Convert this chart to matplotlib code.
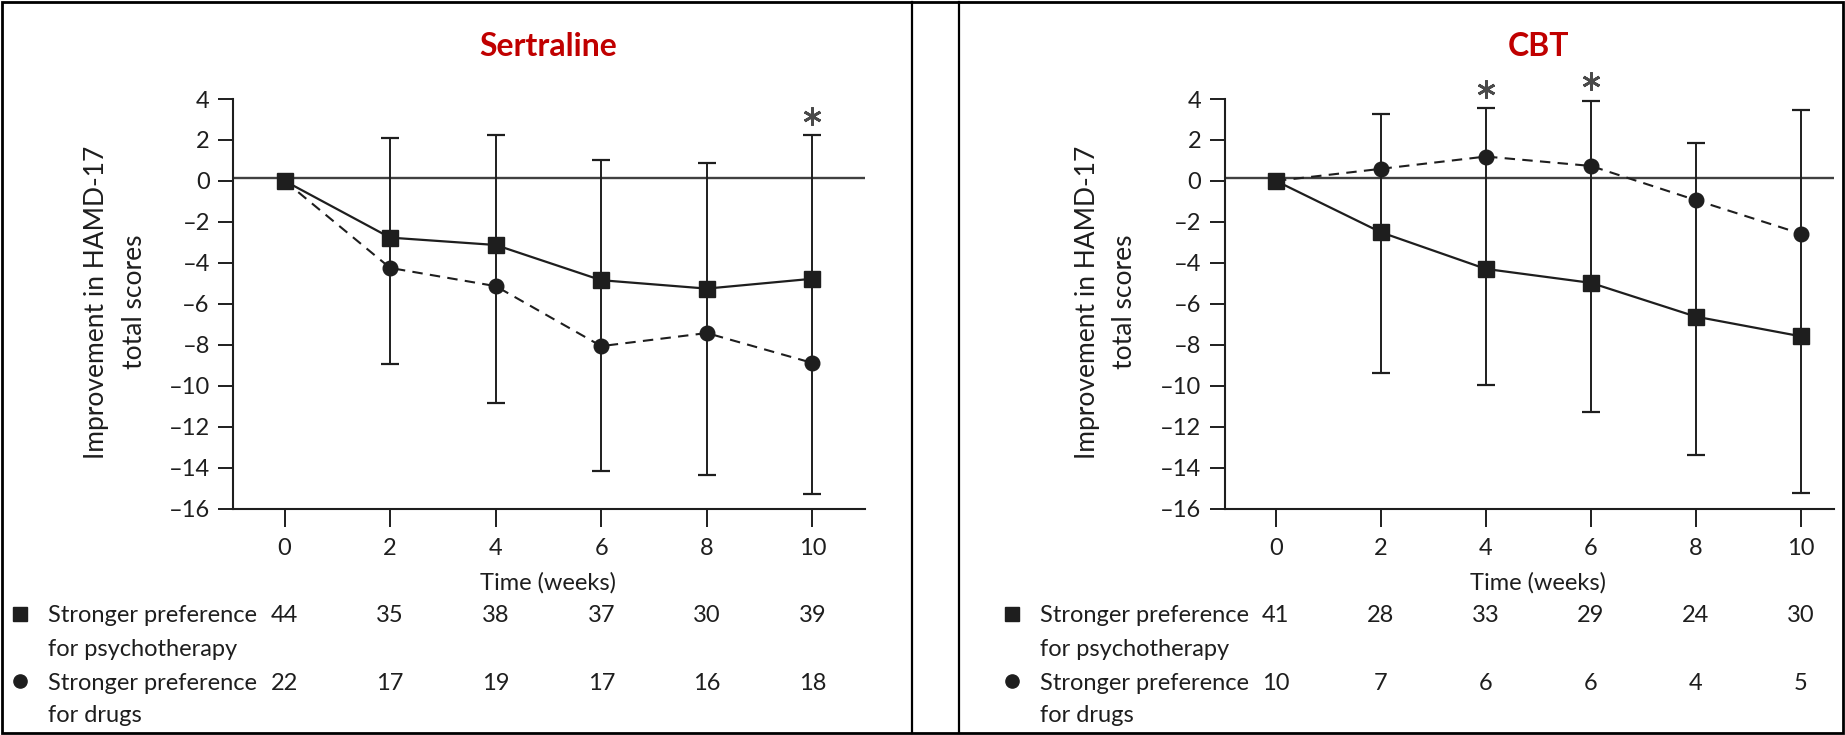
"""HAMD-17 improvement by treatment preference, Sertraline vs CBT."""

import matplotlib
matplotlib.use("Agg")
import matplotlib.pyplot as plt
from matplotlib.lines import Line2D
from matplotlib.patches import Rectangle
from matplotlib.transforms import blended_transform_factory

plt.rcParams["font.family"] = ["Lato", "DejaVu Sans"]

weeks = [0, 2, 4, 6, 8, 10]
err_weeks = [2, 4, 6, 8, 10]

# Sertraline panel
sert_psy = [0, -2.77, -3.13, -4.85, -5.26, -4.78]
sert_drug = [0, -4.25, -5.14, -8.07, -7.43, -8.89]
sert_err_top = [2.08, 2.24, 1.01, 0.87, 2.24]
sert_err_bot = [-8.94, -10.86, -14.17, -14.35, -15.31]
sert_stars = [10]
sert_n_psy = [44, 35, 38, 37, 30, 39]
sert_n_drug = [22, 17, 19, 17, 16, 18]

# CBT panel
cbt_psy = [0, -2.51, -4.30, -4.98, -6.63, -7.59]
cbt_drug = [0, 0.59, 1.19, 0.73, -0.94, -2.58]
cbt_err_top = [3.29, 3.54, 3.91, 1.83, 3.47]
cbt_err_bot = [-9.37, -9.99, -11.31, -13.39, -15.22]
cbt_stars = [4, 6]
cbt_n_psy = [41, 28, 33, 29, 24, 30]
cbt_n_drug = [10, 7, 6, 6, 4, 5]

y_ticks = list(range(-16, 5, 2))
y_tick_labels = [str(v).replace("-", "\u2013") for v in y_ticks]
row_labels = [("Stronger preference", "for psychotherapy"), ("Stronger preference", "for drugs")]

W, H = 1845, 735
DARK = "#1e1e1e"
TITLE_RED = "#C00000"
FS = 17
TICK_FS = 17


def fx(px):
    return px / W


def fy(py):
    return 1 - py / H


fig = plt.figure(figsize=(W / 100, H / 100), dpi=100)


def draw_panel(ax, title, psy, drug, top, bot, stars, n_psy, n_drug, xmax, ylab_px, legend_px):
    ax.axhline(0.12, color="#404040", lw=1.7, zorder=1)
    ax.vlines(err_weeks, bot, top, color=DARK, lw=1.4, zorder=2)
    caps_l = [w - 0.17 for w in err_weeks]
    caps_r = [w + 0.17 for w in err_weeks]
    ax.hlines(top, caps_l, caps_r, color=DARK, lw=1.6)
    ax.hlines(bot, caps_l, caps_r, color=DARK, lw=1.6)
    ax.plot(weeks, drug, color=DARK, lw=1.5, ls=(0, (5, 3.5)), marker="o", ms=10.5,
            markevery=slice(1, None), zorder=3)
    ax.plot(weeks, psy, color=DARK, lw=1.6, marker="s", ms=11, zorder=4)
    star_y = [top[err_weeks.index(s)] + 0.95 for s in stars]
    ax.plot(stars, star_y, ls="none", marker=(6, 2, 0), ms=13, mew=2.0, color="#4a4a4a",
            clip_on=False, zorder=5)

    ax.set_xlim(-0.97, xmax)
    ax.set_ylim(-16, 4)
    ax.set_xticks(weeks)
    ax.set_yticks(y_ticks, y_tick_labels)
    for side in ("top", "right"):
        ax.spines[side].set_visible(False)
    for side in ("left", "bottom"):
        ax.spines[side].set_linewidth(1.5)
        ax.spines[side].set_color(DARK)
    ax.tick_params(axis="x", length=13, width=1.4, pad=8, labelsize=TICK_FS, colors=DARK)
    ax.tick_params(axis="y", length=11, width=1.4, pad=6, labelsize=TICK_FS, colors=DARK)

    tr = blended_transform_factory(ax.transData, fig.transFigure)
    ax.text(5, fy(46), title, transform=tr, ha="center", va="center",
            fontsize=23, fontweight="bold", color=TITLE_RED)
    ax.text(5, fy(583), "Time (weeks)", transform=tr, ha="center", va="center",
            fontsize=FS, color=DARK)

    fig.text(fx(ylab_px[0]), fy(302), "Improvement in HAMD-17", rotation=90,
             ha="center", va="center", fontsize=FS + 2, color=DARK)
    fig.text(fx(ylab_px[1]), fy(302), "total scores", rotation=90,
             ha="center", va="center", fontsize=FS + 2, color=DARK)

    for row, (marker, counts, y1) in enumerate((("s", n_psy, 616), ("o", n_drug, 683))):
        fig.add_artist(Line2D([fx(legend_px)], [fy(y1 - 2)], marker=marker, ms=9.5,
                              color=DARK, transform=fig.transFigure))
        fig.text(fx(legend_px + 28), fy(y1), row_labels[row][0], ha="left", va="center",
                 fontsize=FS, color=DARK)
        fig.text(fx(legend_px + 28), fy(y1 + 33), row_labels[row][1], ha="left", va="center",
                 fontsize=FS, color=DARK)
        for w, n in zip(weeks, counts):
            ax.text(w, fy(y1), str(n), transform=tr, ha="center", va="center",
                    fontsize=FS, color=DARK)


ax_l = fig.add_axes([fx(233.4), fy(508.5), fx(631.7), 409.5 / H])
ax_r = fig.add_axes([fx(1225), fy(508.5), fx(609), 409.5 / H])

draw_panel(ax_l, "Sertraline", sert_psy, sert_drug, sert_err_top, sert_err_bot, sert_stars,
           sert_n_psy, sert_n_drug, 11.0, (97, 134), 20)
draw_panel(ax_r, "CBT", cbt_psy, cbt_drug, cbt_err_top, cbt_err_bot, cbt_stars,
           cbt_n_psy, cbt_n_drug, 10.63, (1088, 1125), 1012)

# panel frames
fig.add_artist(Rectangle((fx(2), fy(733)), fx(1841), 731 / H, fill=False, lw=2,
                         edgecolor="black", transform=fig.transFigure))
for xline in (912, 959):
    fig.add_artist(Line2D([fx(xline)] * 2, [fy(2), fy(733)], lw=1.6, color="black",
                          transform=fig.transFigure))

fig.savefig("out.png", dpi=100)
